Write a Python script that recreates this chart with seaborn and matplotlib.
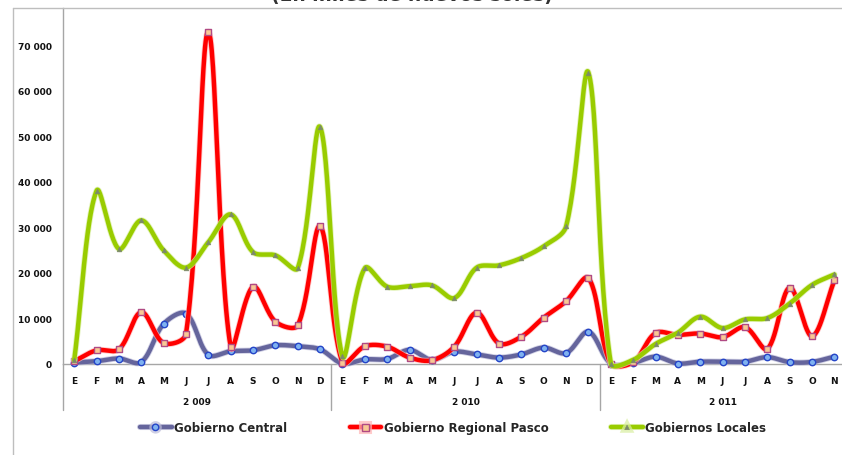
import numpy as np
import pandas as pd
import matplotlib
matplotlib.use("Agg")
import matplotlib.pyplot as plt
import seaborn as sns
from matplotlib.lines import Line2D
import matplotlib.patheffects as pe

# ---------------- data ----------------
months_full = ["E", "F", "M", "A", "M", "J", "J", "A", "S", "O", "N", "D"]
years = ["2 009", "2 010", "2 011"]
months_per_year = [12, 12, 11]

gob_central = [200, 500, 1100, 300, 8700, 11000, 1900, 2700, 2900, 4000, 3800, 3100,
               0, 900, 1000, 3000, 800, 2600, 2000, 1300, 2000, 3500, 2300, 7000,
               0, 150, 1500, 0, 400, 400, 400, 1400, 300, 350, 1500]
gob_regional = [500, 2900, 3100, 11300, 4500, 6500, 73000, 3600, 16900, 9200, 8400, 30200,
                200, 3800, 3700, 1300, 700, 3700, 11200, 4400, 5900, 10100, 13700, 18800,
                0, 300, 6700, 6300, 6600, 5800, 8000, 3200, 16700, 6000, 18300]
gob_locales = [700, 38000, 25200, 31500, 24900, 21100, 26700, 32800, 24500, 23800, 21000, 52000,
               1600, 21000, 16900, 17000, 17200, 14400, 21100, 21600, 23200, 25800, 30200, 64000,
               0, 800, 4300, 6800, 10300, 7800, 9700, 10000, 13200, 17300, 19600]

series_names = ["Gobierno Central", "Gobierno Regional Pasco", "Gobiernos Locales"]
y_ticks = [0, 10000, 20000, 30000, 40000, 50000, 60000, 70000]
title_text = "(En miles de nuevos soles)"

month_labels = []
for n in months_per_year:
    month_labels += months_full[:n]
x = np.arange(len(month_labels))


# ---------------- helpers ----------------
def smooth_display(P, n=30):
    """Excel-like smoothed line: cubic Bezier with chord-weighted Catmull-Rom
    control points, computed in display (pixel) space."""
    P = np.asarray(P, dtype=float)
    out = []
    m = len(P)
    for i in range(m - 1):
        p0 = P[i - 1] if i > 0 else P[i]
        p1, p2 = P[i], P[i + 1]
        p3 = P[i + 2] if i + 2 < m else P[i + 1]
        d01 = np.hypot(*(p1 - p0))
        d12 = np.hypot(*(p2 - p1))
        d23 = np.hypot(*(p3 - p2))
        if d01 + d12 > 0:
            c1 = p1 + (p2 - p0) * (d12 / (d01 + d12)) / 3.0
        else:
            c1 = p1.copy()
        if d12 + d23 > 0:
            c2 = p2 - (p3 - p1) * (d12 / (d12 + d23)) / 3.0
        else:
            c2 = p2.copy()
        t = np.linspace(0, 1, n, endpoint=(i == m - 2))[:, None]
        seg = ((1 - t) ** 3) * p1 + 3 * ((1 - t) ** 2) * t * c1 + 3 * (1 - t) * t ** 2 * c2 + t ** 3 * p2
        out.append(seg)
    return np.vstack(out)


# ---------------- figure ----------------
sns.set_theme(style="white")
plt.rcParams["font.family"] = ["DejaVu Sans"]

W, H = 842, 456
fig = plt.figure(figsize=(W / 100, H / 100), dpi=100)
ax_left, ax_right = 63, 842
ax_top, ax_bottom = 9, 364.5
ax = fig.add_axes([ax_left / W, 1 - ax_bottom / H, (ax_right - ax_left) / W, (ax_bottom - ax_top) / H])

px_per_cat = 22.36
x0 = -0.5
x1 = x0 + (ax_right - ax_left) / px_per_cat
ax.set_xlim(x0, x1)
ymax = (ax_bottom - ax_top) / 45.45 * 10000
ax.set_ylim(0, ymax)

styles = [
    dict(color="#65659C", glow="#BDBDDA", marker="o", ms=4.6, mfc="#7FB2F0", mec="#2545C8", mew=1.0, z=3),
    dict(color="#FF0000", glow="#FFB4B4", marker="s", ms=5.0, mfc="#F9C894", mec="#B04A84", mew=1.0, z=4),
    dict(color="#99CC00", glow="#D8EEA0", marker="^", ms=3.4, mfc="#7C8A6A", mec="#7C8A6A", mew=0.4, z=5),
]
all_series = [gob_central, gob_regional, gob_locales]
LW = 3.2
GLOW_LW = 4.4

handles = []
for name, vals, st in zip(series_names, all_series, styles):
    disp = ax.transData.transform(np.column_stack([x, np.array(vals, dtype=float)]))
    curve = ax.transData.inverted().transform(smooth_display(disp))
    df_line = pd.DataFrame({"x": curve[:, 0], "y": curve[:, 1]})
    sns.lineplot(data=df_line, x="x", y="y", sort=False, estimator=None, ax=ax,
                 color=st["color"], linewidth=LW, zorder=st["z"])
    ln = ax.lines[-1]
    ln.set_clip_on(False)
    ln.set_solid_capstyle("round")
    ln.set_solid_joinstyle("round")
    ln.set_path_effects([pe.Stroke(linewidth=GLOW_LW, foreground=st["glow"], alpha=0.7), pe.Normal()])
    df_pts = pd.DataFrame({"x": x, "y": vals})
    sns.scatterplot(data=df_pts, x="x", y="y", ax=ax, marker=st["marker"], s=st["ms"] ** 2,
                    color=st["mfc"], edgecolor=st["mec"], linewidth=st["mew"], zorder=st["z"] + 0.5,
                    clip_on=False, legend=False)
    handles.append(Line2D([0], [0], color=st["color"], lw=LW, marker=st["marker"], ms=st["ms"],
                          mfc=st["mfc"], mec=st["mec"], mew=st["mew"],
                          path_effects=[pe.Stroke(linewidth=GLOW_LW, foreground=st["glow"], alpha=0.7), pe.Normal()]))

# axes styling
ax.set_xlabel("")
ax.set_ylabel("")
for s in ["top", "right"]:
    ax.spines[s].set_visible(False)
for s in ["bottom", "left"]:
    ax.spines[s].set_color("#A6A6A6")
    ax.spines[s].set_linewidth(1.0)
ax.grid(False)

ax.set_yticks(y_ticks)
ax.set_yticklabels([f"{v:,}".replace(",", " ") for v in y_ticks], fontsize=6.5, fontweight="bold", color="#111111")
ax.set_xticks(x)
ax.set_xticklabels(month_labels, fontsize=6.5, fontweight="bold", color="#111111")
ax.tick_params(axis="both", length=0)
ax.tick_params(axis="y", pad=8)
ax.tick_params(axis="x", pad=9)

# group separators and year labels below the axis
ax_h = ax_bottom - ax_top
sep_bottom = -(411 - ax_bottom) / ax_h
trans = ax.get_xaxis_transform()
start = 0
bounds = [-0.5]
for n in months_per_year:
    start += n
    bounds.append(start - 0.5)
for b in bounds[:-1]:
    ax.plot([b, b], [0, sep_bottom], transform=trans, color="#A6A6A6", lw=1.0, clip_on=False)
start = 0
year_y = -(403 - ax_bottom) / ax_h
for yr, n in zip(years, months_per_year):
    c = start + (n - 1) / 2
    ax.text(c, year_y, yr, transform=trans, ha="center", va="center", fontsize=6.5, fontweight="bold", color="#111111")
    start += n

# outer chart border (left & top visible)
fig.add_artist(Line2D([13 / W, 13 / W], [0, 1 - 9 / H], color="#BEBEBE", lw=1.0))
fig.add_artist(Line2D([13 / W, 1], [1 - 9 / H, 1 - 9 / H], color="#BEBEBE", lw=1.0))

# title (cropped at top, as in the source image)
fig.text(412 / W, 1 - 1.0 / H, title_text, ha="center", va="baseline", fontsize=13.5,
         fontweight="bold", color="#333333")

# legend
fig.legend(handles, series_names, loc="center", bbox_to_anchor=(453 / W, 1 - 429 / H), ncol=3,
           frameon=False, handlelength=2.7, handletextpad=0.2, columnspacing=5.3,
           prop=dict(size=8.5, weight="bold"))

fig.savefig("out.png", dpi=100)
